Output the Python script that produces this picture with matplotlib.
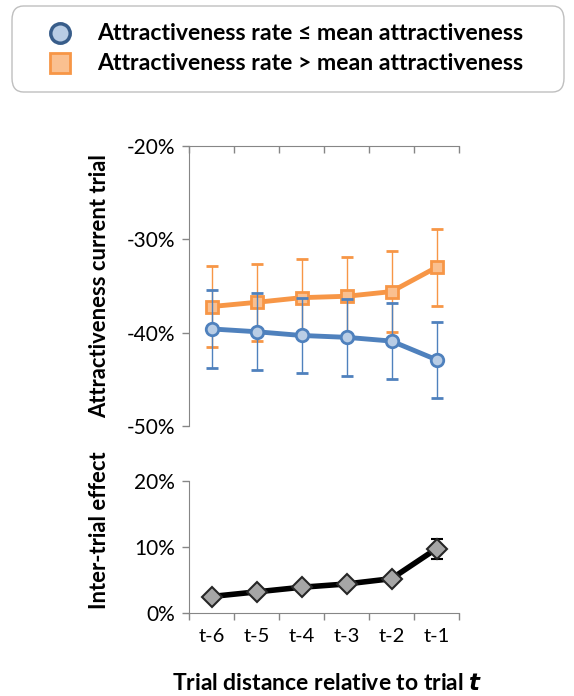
import matplotlib.pyplot as plt
from matplotlib.patches import FancyBboxPatch
from matplotlib.lines import Line2D

plt.rcParams['font.family'] = ['Lato', 'DejaVu Sans']

lags = ["t-6", "t-5", "t-4", "t-3", "t-2", "t-1"]

# attractiveness of the current trial (%), split by the rate on the earlier trial
low_mean = [-39.6, -39.9, -40.3, -40.5, -40.9, -42.9]
low_err = [4.2, 4.1, 4.0, 4.1, 4.1, 4.05]
high_mean = [-37.2, -36.75, -36.25, -36.1, -35.6, -33.0]
high_err = [4.3, 4.15, 4.15, 4.2, 4.3, 4.1]

# inter-trial effect (%)
effect = [2.5, 3.2, 3.9, 4.4, 5.2, 9.75]
effect_err = [0.4, 0.4, 0.4, 0.4, 0.5, 1.5]

BLUE = "#4F81BD"
BLUE_FACE = "#B9CDE5"
ORANGE = "#F79646"
ORANGE_FACE = "#FAC090"
SPINE = "#868686"

W, H = 574, 696
fig = plt.figure(figsize=(W / 100, H / 100), dpi=100)


def px_axes(left, top, right, bottom):
    return fig.add_axes([left / W, 1 - bottom / H, (right - left) / W, (bottom - top) / H])


x = list(range(1, len(lags) + 1))
bounds = [i + 0.5 for i in range(len(lags) + 1)]

# upper panel
ax1 = px_axes(189, 146, 459, 426)
ax1.errorbar(x, high_mean, yerr=high_err, color=ORANGE, lw=3.5, marker="s", ms=9,
             mfc=ORANGE_FACE, mec=ORANGE, mew=2, ecolor=ORANGE, elinewidth=1,
             capsize=4, capthick=1, zorder=3)
ax1.errorbar(x, low_mean, yerr=low_err, color=BLUE, lw=3.5, marker="o", ms=9,
             mfc=BLUE_FACE, mec=BLUE, mew=2, ecolor=BLUE, elinewidth=1,
             capsize=4, capthick=1, zorder=4)
ax1.set_xlim(0.5, len(lags) + 0.5)
ax1.set_ylim(-50, -20)
ax1.set_yticks([-50, -40, -30, -20])
ax1.set_yticklabels(["-50%", "-40%", "-30%", "-20%"])
ax1.xaxis.tick_top()
ax1.set_xticks(bounds)
ax1.set_xticklabels([])
ax1.tick_params(axis="x", direction="in", length=5, color=SPINE, width=1)
ax1.tick_params(axis="y", direction="out", length=5, color=SPINE, width=1,
                labelsize=15, pad=5)
for side in ["bottom", "right"]:
    ax1.spines[side].set_visible(False)
for side in ["top", "left"]:
    ax1.spines[side].set_color(SPINE)

# lower panel
ax2 = px_axes(189, 481, 459, 613)
ax2.errorbar(x, effect, yerr=effect_err, color="black", lw=4, marker="D", ms=10,
             mfc="#A6A6A6", mec="#262626", mew=1.5, ecolor="black", elinewidth=1,
             capsize=4, capthick=1, zorder=3)
ax2.set_xlim(0.5, len(lags) + 0.5)
ax2.set_ylim(0, 20)
ax2.set_yticks([0, 10, 20])
ax2.set_yticklabels(["0%", "10%", "20%"])
ax2.set_xticks(bounds)
ax2.set_xticklabels([])
ax2.set_xticks(x, minor=True)
ax2.set_xticklabels(lags, minor=True)
ax2.tick_params(axis="x", which="major", direction="out", length=5, color=SPINE, width=1)
ax2.tick_params(axis="x", which="minor", length=0, labelsize=14.5, pad=11)
ax2.tick_params(axis="y", direction="out", length=5, color=SPINE, width=1,
                labelsize=15, pad=5)
for side in ["top", "right"]:
    ax2.spines[side].set_visible(False)
for side in ["bottom", "left"]:
    ax2.spines[side].set_color(SPINE)

# axis titles
fig.text(100 / W, 1 - 286 / H, "Attractiveness current trial", rotation=90,
         ha="center", va="center", fontsize=15.8, fontweight="bold")
fig.text(100 / W, 1 - 530 / H, "Inter-trial effect", rotation=90,
         ha="center", va="center", fontsize=15.8, fontweight="bold")
fig.text(327 / W, 1 - 684 / H, "Trial distance relative to trial $\\boldsymbol{t}$",
         ha="center", va="center", fontsize=16.5, fontweight="bold")

# legend box
box = FancyBboxPatch((12 / W, 1 - 92 / H), 552 / W, 86 / H,
                     boxstyle="round,pad=0,rounding_size=0.02",
                     transform=fig.transFigure, fc="white", ec="#BFBFBF", lw=1)
fig.patches.append(box)
fig.lines.append(Line2D([60 / W], [1 - 33 / H], transform=fig.transFigure,
                        marker="o", ms=14, mfc=BLUE_FACE, mec="#385D8A", mew=2.5))
fig.lines.append(Line2D([60 / W], [1 - 63 / H], transform=fig.transFigure,
                        marker="s", ms=14, mfc=ORANGE_FACE, mec=ORANGE, mew=2))
fig.text(97 / W, 1 - 33 / H, "Attractiveness rate ≤ mean attractiveness",
         ha="left", va="center", fontsize=16.6, fontweight="bold")
fig.text(97 / W, 1 - 63 / H, "Attractiveness rate > mean attractiveness",
         ha="left", va="center", fontsize=16.6, fontweight="bold")

fig.savefig("out.png", dpi=100)
